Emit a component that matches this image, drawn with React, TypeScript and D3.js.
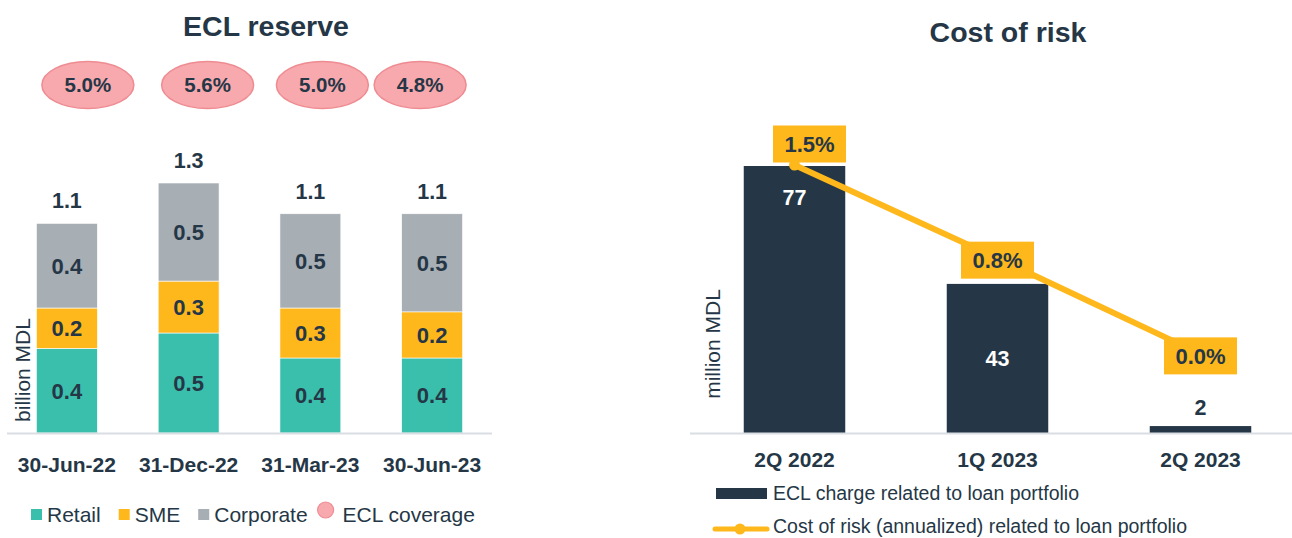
import React, { useEffect, useRef } from "react";
import * as d3 from "d3";

// ECL reserve (billion MDL)
const dates = ["30-Jun-22", "31-Dec-22", "31-Mar-23", "30-Jun-23"];
const retail = [0.44, 0.52, 0.39, 0.39];
const sme = [0.21, 0.27, 0.26, 0.24];
const corporate = [0.44, 0.51, 0.49, 0.51];
const eclCoverage = [5.0, 5.6, 5.0, 4.8];

// Cost of risk
const quarters = ["2Q 2022", "1Q 2023", "2Q 2023"];
const eclCharge = [77, 43, 2];
const costOfRisk = [1.5, 0.77, 0.02];

const NAVY = "#253746";
const TEAL = "#3BBFAD";
const AMBER = "#FFB81C";
const GREY = "#A7AEB4";
const PINK = "#F8A9AE";
const PINK_STROKE = "#EE8C92";
const AXIS = "#D9DEE3";
const FONT = "'Liberation Sans', Arial, sans-serif";

// bubbles were placed by hand in the source slide, shift them a bit off the bar centres
const bubbleNudge = [21, 19, 12, -12];

const App = () => {
  const svgRef = useRef<SVGSVGElement>(null);

  useEffect(() => {
    const svg = d3.select(svgRef.current);
    svg.selectAll("*").remove();
    svg.style("font-family", FONT);

    // ---------- left chart: ECL reserve ----------
    const base = 433;
    const left = svg.append("g");

    const x = d3.scaleBand().domain(dates).range([6, 493]).paddingInner(0.5).paddingOuter(0.25);
    const y = d3.scaleLinear().domain([0, 1.3]).range([base, 183]);

    const series = [
      { key: "Retail", values: retail, color: TEAL },
      { key: "SME", values: sme, color: AMBER },
      { key: "Corporate", values: corporate, color: GREY },
    ];
    const rows = dates.map((d, i) => {
      const r: any = { date: d };
      series.forEach((s) => (r[s.key] = s.values[i]));
      return r;
    });
    const stacked = d3.stack().keys(series.map((s) => s.key))(rows);

    left
      .append("text")
      .attr("x", 266)
      .attr("y", 36)
      .attr("text-anchor", "middle")
      .attr("font-size", 28.5)
      .attr("font-weight", "bold")
      .attr("fill", NAVY)
      .text("ECL reserve");

    stacked.forEach((layer, li) => {
      const g = left.append("g");
      g.selectAll("rect")
        .data(layer)
        .join("rect")
        .attr("x", (d: any) => x(d.data.date)!)
        .attr("width", x.bandwidth())
        .attr("y", (d) => y(d[1]))
        .attr("height", (d) => y(d[0]) - y(d[1]))
        .attr("fill", series[li].color)
        .attr("stroke", "#fff")
        .attr("stroke-width", 0.6);
      g.selectAll("text")
        .data(layer)
        .join("text")
        .attr("x", (d: any) => x(d.data.date)! + x.bandwidth() / 2)
        .attr("y", (d) => (y(d[0]) + y(d[1])) / 2)
        .attr("dy", "0.36em")
        .attr("text-anchor", "middle")
        .attr("font-size", 22)
        .attr("font-weight", "bold")
        .attr("fill", NAVY)
        .text((d) => d3.format(".1f")(d[1] - d[0]));
    });

    // totals
    const top = stacked[stacked.length - 1];
    left
      .selectAll(".total")
      .data(top)
      .join("text")
      .attr("x", (d: any) => x(d.data.date)! + x.bandwidth() / 2)
      .attr("y", (d) => y(d[1]) - 15)
      .attr("text-anchor", "middle")
      .attr("font-size", 21.5)
      .attr("font-weight", "bold")
      .attr("fill", NAVY)
      .text((d) => d3.format(".1f")(d[1]));

    // coverage bubbles
    const bub = left
      .selectAll(".bubble")
      .data(eclCoverage)
      .join("g")
      .attr("transform", (d, i) => `translate(${x(dates[i])! + x.bandwidth() / 2 + bubbleNudge[i]},85)`);
    bub.append("ellipse").attr("rx", 46).attr("ry", 23.5).attr("fill", PINK).attr("stroke", PINK_STROKE).attr("stroke-width", 1.5);
    bub
      .append("text")
      .attr("dy", "0.36em")
      .attr("text-anchor", "middle")
      .attr("font-size", 20.5)
      .attr("font-weight", "bold")
      .attr("fill", NAVY)
      .text((d) => d3.format(".1f")(d) + "%");

    // x axis
    const xAxis = left.append("g").attr("transform", `translate(0,${base})`).call(d3.axisBottom(x).tickSize(0).tickPadding(24));
    xAxis.select(".domain").attr("stroke", AXIS).attr("stroke-width", 2).attr("d", "M7,0.5H492");
    xAxis
      .selectAll(".tick text")
      .attr("font-size", 21)
      .attr("font-weight", "bold")
      .attr("fill", NAVY)
      .attr("font-family", FONT);

    left
      .append("text")
      .attr("transform", "translate(22,370) rotate(-90)")
      .attr("text-anchor", "middle")
      .attr("dominant-baseline", "central")
      .attr("font-size", 21)
      .attr("fill", NAVY)
      .text("billion MDL");

    // legend
    let lx = 31;
    const legendY = 514;
    series.forEach((s) => {
      left.append("rect").attr("x", lx).attr("y", legendY - 5).attr("width", 11).attr("height", 11).attr("fill", s.color);
      const t = left
        .append("text")
        .attr("x", lx + 16)
        .attr("y", legendY + 7.5)
        .attr("font-size", 21)
        .attr("fill", NAVY)
        .text(s.key);
      lx += 16 + (t.node() as SVGTextElement).getComputedTextLength() + 18;
    });
    left.append("circle").attr("cx", lx).attr("cy", legendY - 4).attr("r", 8).attr("fill", PINK).attr("stroke", PINK_STROKE).attr("stroke-width", 1.2);
    left
      .append("text")
      .attr("x", lx + 17)
      .attr("y", legendY + 7.5)
      .attr("font-size", 21)
      .attr("fill", NAVY)
      .text("ECL coverage");

    // ---------- right chart: Cost of risk ----------
    const right = svg.append("g");
    const x2 = d3.scaleBand().domain(quarters).range([693, 1302]).paddingInner(0.5).paddingOuter(0.25);
    const yBar = d3.scaleLinear().domain([0, 77]).range([base, 166]);
    const yLine = d3.scaleLinear().domain([-0.6, 1.5]).range([base, 165]);
    const cx = (q: string) => x2(q)! + x2.bandwidth() / 2;

    right
      .append("text")
      .attr("x", 1008)
      .attr("y", 42)
      .attr("text-anchor", "middle")
      .attr("font-size", 28.5)
      .attr("font-weight", "bold")
      .attr("fill", NAVY)
      .text("Cost of risk");

    right
      .selectAll(".bar")
      .data(eclCharge)
      .join("rect")
      .attr("x", (d, i) => x2(quarters[i])!)
      .attr("width", x2.bandwidth())
      .attr("y", (d) => yBar(d))
      .attr("height", (d) => base - yBar(d))
      .attr("fill", NAVY);

    right
      .selectAll(".barlab")
      .data(eclCharge)
      .join("text")
      .each(function (d, i) {
        const h = base - yBar(d);
        const t = d3.select(this);
        if (h > 200) t.attr("y", yBar(d) + 31).attr("fill", "#fff");
        else if (h > 30) t.attr("y", (yBar(d) + base) / 2).attr("fill", "#fff");
        else t.attr("y", yBar(d) - 19).attr("fill", NAVY);
        t.attr("x", cx(quarters[i]));
      })
      .attr("dy", "0.36em")
      .attr("text-anchor", "middle")
      .attr("font-size", 21.5)
      .attr("font-weight", "bold")
      .text((d) => d);

    const xAxis2 = right.append("g").attr("transform", `translate(0,${base})`).call(d3.axisBottom(x2).tickSize(0).tickPadding(19));
    xAxis2.select(".domain").attr("stroke", AXIS).attr("stroke-width", 2).attr("d", "M690,0.5H1292");
    xAxis2
      .selectAll(".tick text")
      .attr("font-size", 21)
      .attr("font-weight", "bold")
      .attr("fill", NAVY)
      .attr("font-family", FONT);

    right
      .append("text")
      .attr("transform", "translate(712,344) rotate(-90)")
      .attr("text-anchor", "middle")
      .attr("dominant-baseline", "central")
      .attr("font-size", 21)
      .attr("fill", NAVY)
      .text("million MDL");

    const pts = costOfRisk.map((v, i) => [cx(quarters[i]), yLine(v)] as [number, number]);
    right.append("path").attr("d", d3.line()(pts)).attr("fill", "none").attr("stroke", AMBER).attr("stroke-width", 6);
    right
      .selectAll(".dot")
      .data(pts)
      .join("circle")
      .attr("cx", (d) => d[0])
      .attr("cy", (d) => d[1])
      .attr("r", 5.5)
      .attr("fill", AMBER);

    const lab = right
      .selectAll(".corlab")
      .data(costOfRisk)
      .join("g")
      .attr("transform", (d, i) => {
        const [px, py] = pts[i];
        // the highest point gets its label above-right, the rest sit on the point
        return i === 0 ? `translate(${px + 15},${py - 21})` : `translate(${px},${py + 2})`;
      });
    lab.append("rect").attr("x", -36.5).attr("y", -18.5).attr("width", 73).attr("height", 37).attr("fill", AMBER);
    lab
      .append("text")
      .attr("dy", "0.36em")
      .attr("text-anchor", "middle")
      .attr("font-size", 22)
      .attr("font-weight", "bold")
      .attr("fill", NAVY)
      .text((d) => d3.format(".1f")(d) + "%");

    // legend
    right.append("rect").attr("x", 716).attr("y", 488).attr("width", 51).attr("height", 11).attr("fill", NAVY);
    right
      .append("text")
      .attr("x", 773)
      .attr("y", 500)
      .attr("font-size", 19.5)
      .attr("fill", NAVY)
      .text("ECL charge related to loan portfolio");
    right
      .append("line")
      .attr("x1", 715)
      .attr("x2", 767)
      .attr("y1", 529)
      .attr("y2", 529)
      .attr("stroke", AMBER)
      .attr("stroke-width", 5)
      .attr("stroke-linecap", "round");
    right.append("circle").attr("cx", 740).attr("cy", 529).attr("r", 5.5).attr("fill", AMBER);
    right
      .append("text")
      .attr("x", 773)
      .attr("y", 533)
      .attr("font-size", 19.5)
      .attr("fill", NAVY)
      .text("Cost of risk (annualized) related to loan portfolio");
  }, []);

  return (
    <svg
      ref={svgRef}
      width={1292}
      height={538}
      style={{ position: "absolute", left: 0, top: 0, background: "#fff", display: "block" }}
    />
  );
};

export default App;
